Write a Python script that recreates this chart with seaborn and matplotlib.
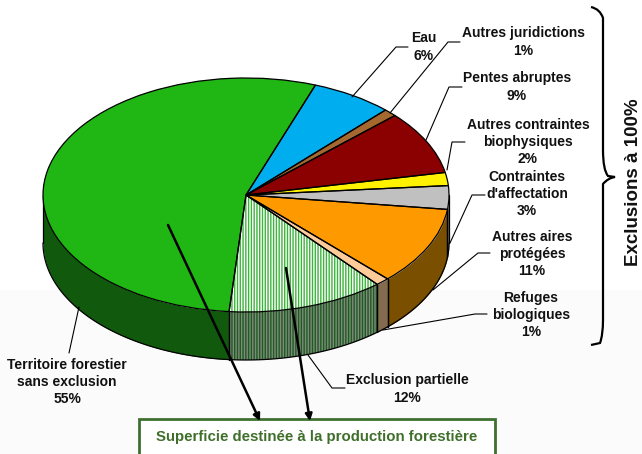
import numpy as np
import seaborn as sns
import matplotlib.pyplot as plt
from matplotlib.patches import PathPatch, Rectangle
from matplotlib.path import Path

sns.set_theme(style='white')
plt.rcParams['font.family'] = ['Liberation Sans', 'DejaVu Sans']
plt.rcParams['hatch.linewidth'] = 1.0

# Values (labels carry the rounded numbers)
categories = ['Eau', 'Autres juridictions', 'Pentes abruptes', 'Autres contraintes biophysiques',
              "Contraintes d'affectation", 'Autres aires protégées', 'Refuges biologiques',
              'Exclusion partielle', 'Territoire forestier sans exclusion']
values = [6.5, 1.05, 8.8, 1.8, 3.25, 10.75, 1.1, 12.5, 54.2]
top_colors = ['#00aeef', '#a5682f', '#8b0000', '#fff200', '#c0c0c0', '#ff9900', '#ffcc99', '#ffffff', '#20b614']
side_colors = ['#00608a', '#5a3a18', '#4d0000', '#8a8400', '#6a6a6a', '#7a4f00', '#836b50', '#7d8a7d', '#10590d']
HATCHED = 'Exclusion partielle'
DEPTH = 48 / 117

labels = [
    ('Eau\n6%', 424, 47),
    ('Autres juridictions\n1%', 523, 42),
    ('Pentes abruptes\n9%', 517, 87),
    ('Autres contraintes\nbiophysiques\n2%', 528, 142),
    ("Contraintes\nd'affectation\n3%", 527, 194),
    ('Autres aires\nprotégées\n11%', 532, 254),
    ('Refuges\nbiologiques\n1%', 531, 315),
    ('Exclusion partielle\n12%', 407, 389),
    ('Territoire forestier\nsans exclusion\n55%', 67, 382),
]
leaders = [
    [(352, 97), (396, 47), (408, 47)],
    [(390, 113), (448, 42), (460, 42)],
    [(426, 140), (449, 87), (462, 87)],
    [(447, 170), (452, 142), (465, 142)],
    [(450, 243), (472, 195), (485, 195)],
    [(433, 290), (478, 253), (490, 253)],
    [(383, 330), (475, 314), (487, 314)],
    [(308, 355), (332, 388), (345, 388)],
    [(79, 307), (69, 353)],
]

fig = plt.figure(figsize=(6.42, 4.54), dpi=100)

# background, slightly grey in the lower part
bg = fig.add_axes([0, 0, 1, 1], zorder=0)
bg.set_xlim(0, 642)
bg.set_ylim(454, 0)
bg.axis('off')
bg.add_patch(Rectangle((0, 290), 642, 164, color='#fbfbfb', lw=0))

# pie axes, the limits squash the circle to the ellipse of the picture
ax = fig.add_axes([0, 0, 1, 1], zorder=1)
wedges, _ = ax.pie(values, colors=top_colors, startangle=70, counterclock=False,
                   wedgeprops={'linewidth': 0})
ax.patch.set_alpha(0)

# side wall, only the front half of the pie
for w, name, col in zip(wedges, categories, side_colors):
    lo = w.theta1 % 360
    hi = lo + (w.theta2 - w.theta1)
    a, b = max(lo, 180), min(hi, 360)
    if a >= b:
        continue
    t = np.radians(np.linspace(a, b, 80))
    if name == HATCHED:
        ax.fill_between(np.cos(t), np.sin(t), np.sin(t) - DEPTH, facecolor=col,
                        edgecolor='#1f5a1f', hatch='||||||', linewidth=0, zorder=2)
    else:
        ax.fill_between(np.cos(t), np.sin(t), np.sin(t) - DEPTH, color=col, linewidth=0, zorder=2)
    ax.plot(np.cos(t), np.sin(t) - DEPTH, color='black', lw=0.9, zorder=3)
    for v in (t[0], t[-1]):
        ax.plot([np.cos(v)] * 2, [np.sin(v), np.sin(v) - DEPTH], color='black', lw=0.9, zorder=3)

# hatch of the partial exclusion slice, then the black outlines
for w, name in zip(wedges, categories):
    w.set_zorder(4)
    if name == HATCHED:
        w.set_edgecolor('#3cb43c')
        w.set_hatch('||||||')
ax.pie(values, startangle=70, counterclock=False,
       wedgeprops={'fill': False, 'edgecolor': 'black', 'linewidth': 0.9, 'zorder': 5})
ax.set_aspect('auto')
ax.set_xlim(-246 / 203, (642 - 246) / 203)
ax.set_ylim(-(454 - 195) / 117, 195 / 117)
ax.axis('off')

# annotations in picture coordinates
ann = fig.add_axes([0, 0, 1, 1], zorder=2)
ann.set_xlim(0, 642)
ann.set_ylim(454, 0)
ann.axis('off')
ann.patch.set_alpha(0)

for pts in leaders:
    xs, ys = zip(*pts)
    ann.plot(xs, ys, color='black', lw=0.8)
for txt, x, y in labels:
    ann.text(x, y, txt, ha='center', va='center', fontsize=10, fontweight='bold',
             color='#111111', linespacing=1.3)

ann.add_patch(Rectangle((139, 419), 356, 40, facecolor='white', edgecolor='#3f7030', lw=2, zorder=3))
ann.text(317, 437, 'Superficie destinée à la production forestière', ha='center', va='center',
         fontsize=10.8, fontweight='bold', color='#3f6f2a', zorder=4)

for start, end in [((168, 225), (260, 421)), ((286, 268), (310, 421))]:
    ann.annotate('', xy=end, xytext=start,
                 arrowprops={'arrowstyle': '-|>', 'color': 'black', 'lw': 1.8, 'mutation_scale': 10,
                             'shrinkA': 0, 'shrinkB': 0})

# curly brace on the right
brace = Path(
    [(591, 7), (600, 9), (603, 18), (603, 32), (603, 150), (603, 170), (608, 176), (615, 177),
     (608, 178), (603, 184), (603, 200), (603, 320), (603, 335), (600, 343), (591, 345)],
    [Path.MOVETO, Path.CURVE3, Path.CURVE3, Path.LINETO, Path.LINETO, Path.CURVE3, Path.CURVE3, Path.LINETO,
     Path.CURVE3, Path.CURVE3, Path.LINETO, Path.LINETO, Path.CURVE3, Path.CURVE3, Path.LINETO])
ann.add_patch(PathPatch(brace, fill=False, edgecolor='black', lw=1.6))
ann.text(633, 182, 'Exclusions à 100%', rotation=90, ha='center', va='center',
         fontsize=13.5, fontweight='bold', color='#111111')

fig.savefig('out.png', dpi=100)
